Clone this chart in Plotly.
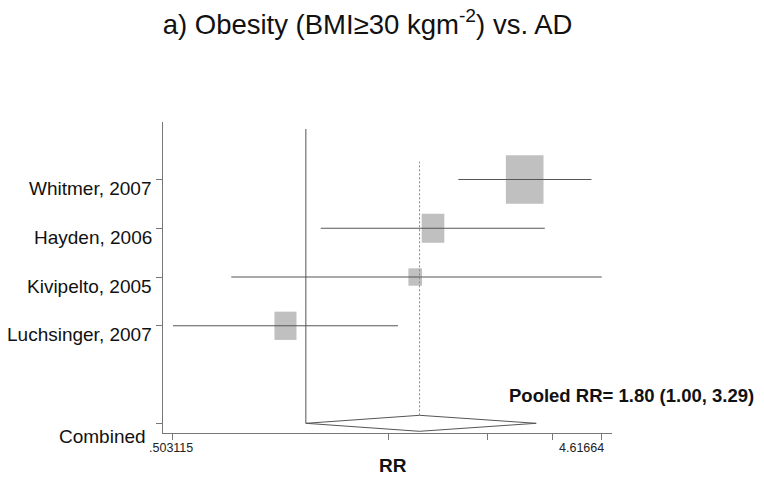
import math
import plotly.graph_objects as go

# ---------------- data ----------------
studies = ["Whitmer, 2007", "Hayden, 2006", "Kivipelto, 2005", "Luchsinger, 2007"]
rr = [3.10, 1.93, 1.76, 0.90]
rr_lower = [2.20, 1.08, 0.68, 0.503115]
rr_upper = [4.38, 3.44, 4.61664, 1.61]
weights = [54.5, 19.7, 7.1, 18.7]          # % weight (box area)
pooled_label = "Combined"
pooled_rr = 1.80
pooled_lower = 1.00
pooled_upper = 3.29
x_tick_values = [0.503115, 1.53, 2.555, 3.585, 4.61664]
x_tick_labels = [".503115", "", "", "", "4.61664"]
title_text = "a) Obesity (BMI≥30 kgm<sup>-2</sup>) vs. AD"
x_title = "RR"

# ---------------- layout constants ----------------
W, H = 764, 477
ML, MR, MT, MB = 163, 152, 122, 44
plot_w = W - ML - MR
plot_h = H - MT - MB
FONT = "Liberation Sans, Arial, sans-serif"
BOX_COLOR = "#c0c0c0"
LINE_COLOR = "#555555"
AXIS_COLOR = "#777777"

xmin, xmax = min(x_tick_values), max(x_tick_values)
lmin, lmax = math.log10(xmin), math.log10(xmax)
span = lmax - lmin
x_range = [lmin - span * 0.0233, lmax + span * 0.024]
px_per_log10 = plot_w / (x_range[1] - x_range[0])

y_range = [-0.199, 6.179]
px_per_y = plot_h / (y_range[1] - y_range[0])

n = len(studies)
rows = [n + 1 - i for i in range(n)]      # 5,4,3,2 ; combined at 0
pooled_row = 0

box_px_per_sqrtw = 6.54
box_aspect = 0.78

fig = go.Figure()

# boxes
for i in range(n):
    hpx = math.sqrt(weights[i]) * box_px_per_sqrtw
    wpx = hpx * box_aspect
    hh = hpx / 2 / px_per_y
    hw = wpx / 2 / px_per_log10
    x0 = rr[i] / 10 ** hw
    x1 = rr[i] * 10 ** hw
    y = rows[i]
    fig.add_trace(go.Scatter(
        x=[x0, x1, x1, x0, x0], y=[y - hh, y - hh, y + hh, y + hh, y - hh],
        mode="lines", fill="toself", fillcolor=BOX_COLOR,
        line=dict(width=0, color=BOX_COLOR), hoverinfo="skip", showlegend=False))

# CI lines
for i in range(n):
    fig.add_trace(go.Scatter(
        x=[rr_lower[i], rr_upper[i]], y=[rows[i], rows[i]], mode="lines",
        line=dict(color=LINE_COLOR, width=1), hoverinfo="skip", showlegend=False))

# null line at RR = 1
null_top = 6.036
fig.add_trace(go.Scatter(
    x=[1, 1], y=[pooled_row, null_top], mode="lines",
    line=dict(color=LINE_COLOR, width=1), hoverinfo="skip", showlegend=False))

# diamond
dh = 8 / px_per_y
fig.add_trace(go.Scatter(
    x=[pooled_lower, pooled_rr, pooled_upper, pooled_rr, pooled_lower],
    y=[pooled_row, pooled_row + dh, pooled_row, pooled_row - dh, pooled_row],
    mode="lines", fill="toself", fillcolor="white",
    line=dict(color=LINE_COLOR, width=1), hoverinfo="skip", showlegend=False))

# dashed pooled line
dash_top = 5.365
fig.add_trace(go.Scatter(
    x=[pooled_rr, pooled_rr], y=[pooled_row + dh, dash_top], mode="lines",
    line=dict(color="#888888", width=1, dash="2px,2px"),
    hoverinfo="skip", showlegend=False))

annotations = []
# study labels
for i in range(n):
    annotations.append(dict(
        text=studies[i], xref="paper", x=0, xanchor="right", xshift=-9,
        yref="y", y=rows[i], yanchor="middle", yshift=-9, showarrow=False,
        font=dict(family=FONT, size=19, color="#111111")))
annotations.append(dict(
    text=pooled_label, xref="paper", x=0, xanchor="right", xshift=-15,
    yref="y", y=pooled_row, yanchor="middle", yshift=-13, showarrow=False,
    font=dict(family=FONT, size=19, color="#111111")))

# x tick labels
for v, t in zip(x_tick_values, x_tick_labels):
    if not t:
        continue
    is_last = v == xmax
    annotations.append(dict(
        text=t, xref="x", x=math.log10(v),
        xanchor="right" if is_last else "center", xshift=4 if is_last else -2,
        yref="paper", y=0, yanchor="top", yshift=-6, showarrow=False,
        font=dict(family=FONT, size=12.5, color="#222222")))

# x axis title
annotations.append(dict(
    text=f"<b>{x_title}</b>", xref="paper", x=(393 - ML) / plot_w, xanchor="center",
    yref="paper", y=(433 - 465) / plot_h, yanchor="middle", showarrow=False,
    font=dict(family=FONT, size=19, color="#111111")))

# pooled text
annotations.append(dict(
    text=f"<b>Pooled RR= {pooled_rr:.2f} ({pooled_lower:.2f}, {pooled_upper:.2f})</b>",
    xref="paper", x=(507 - ML) / plot_w, xanchor="left",
    yref="y", y=0.58, yanchor="middle", showarrow=False,
    font=dict(family=FONT, size=18.5, color="#111111")))

fig.update_layout(
    width=W, height=H,
    margin=dict(l=ML, r=MR, t=MT, b=MB, pad=0),
    paper_bgcolor="white", plot_bgcolor="white",
    title=dict(text=title_text, x=367.5 / W, xanchor="center",
               y=1 - 24 / H, yanchor="middle",
               font=dict(family=FONT, size=27.5, color="#111111")),
    xaxis=dict(type="log", range=x_range, showgrid=False, zeroline=False,
               showline=True, linecolor=AXIS_COLOR, linewidth=1,
               tickmode="array", tickvals=x_tick_values,
               showticklabels=False, ticks="outside", ticklen=6,
               tickcolor=AXIS_COLOR, tickwidth=1, fixedrange=True),
    yaxis=dict(range=y_range, showgrid=False, zeroline=False,
               showline=True, linecolor=AXIS_COLOR, linewidth=1,
               tickmode="array", tickvals=rows + [pooled_row],
               showticklabels=False, ticks="outside", ticklen=6,
               tickcolor=AXIS_COLOR, tickwidth=1, fixedrange=True),
    annotations=annotations,
    showlegend=False,
)

fig.write_html(
    "out.html",
    config={"displayModeBar": False},
    post_script="document.body.style.margin='0';document.body.style.overflow='hidden';",
)
